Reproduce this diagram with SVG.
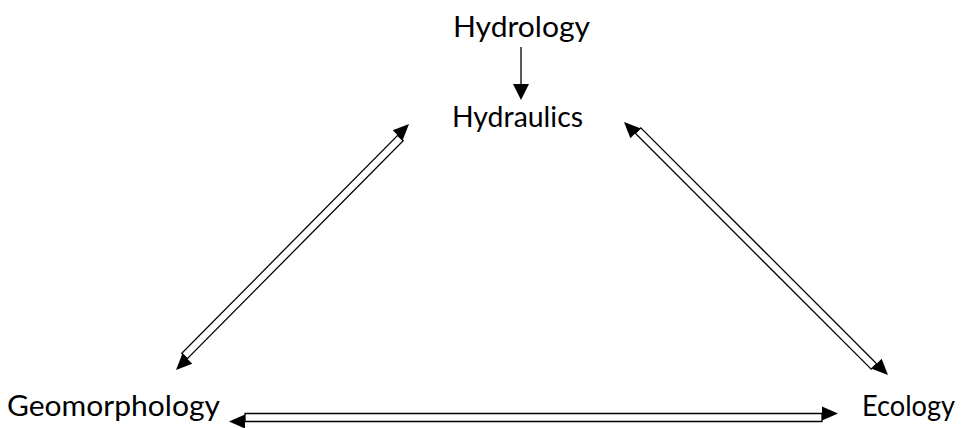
<svg xmlns="http://www.w3.org/2000/svg" width="963" height="428" viewBox="0 0 963 428">
<style>
.lbl{font-family:Lato,"Open Sans","Liberation Sans",sans-serif;font-size:28px;fill:#000;text-anchor:middle}
.band{fill:#fff;stroke:#000;stroke-width:1.3;stroke-linejoin:miter}
.head{fill:#000;stroke:none}
.ln{stroke:#000;stroke-width:1.3;fill:none}
</style>
<rect width="963" height="428" fill="#fff"/>
<g id="connectors">
<g id="hydrology-hydraulics">
<line class="ln" x1="521" y1="47" x2="521" y2="85"/>
<polygon class="head" points="513,84 529,84 521,100"/>
</g>
<g id="hydraulics-geomorphology">
<polygon class="band" points="397.7,135.3 403.2,140.8 187.3,358.7 181.8,353.2"/>
<polygon class="head" points="409,124 392.75,130.35 402.65,140.25"/>
<polygon class="head" points="176,370 182.35,353.75 192.25,363.65"/>
</g>
<g id="hydraulics-ecology">
<polygon class="band" points="635.3,133.3 640.8,127.8 876.7,363.7 871.2,369.2"/>
<polygon class="head" points="624,122 640.25,128.35 630.35,138.25"/>
<polygon class="head" points="888,375 881.65,358.75 871.75,368.65"/>
</g>
<g id="geomorphology-ecology">
<polygon class="band" points="245,413.5 822,413.5 822,421.5 245,421.5"/>
<polygon class="head" points="822,406.5 838,413.5 822,420.5"/>
<polygon class="head" points="245,414.5 229,421.5 245,428.5"/>
</g>
</g>
<g id="hydrology"><text class="lbl" x="521.5" y="37" textLength="137" lengthAdjust="spacingAndGlyphs">Hydrology</text></g>
<g id="hydraulics"><text class="lbl" x="517.5" y="127" textLength="131" lengthAdjust="spacingAndGlyphs">Hydraulics</text></g>
<g id="geomorphology"><text class="lbl" x="113.5" y="416" textLength="213" lengthAdjust="spacingAndGlyphs">Geomorphology</text></g>
<g id="ecology"><text class="lbl" x="908.5" y="416" textLength="93" lengthAdjust="spacingAndGlyphs">Ecology</text></g>
</svg>
